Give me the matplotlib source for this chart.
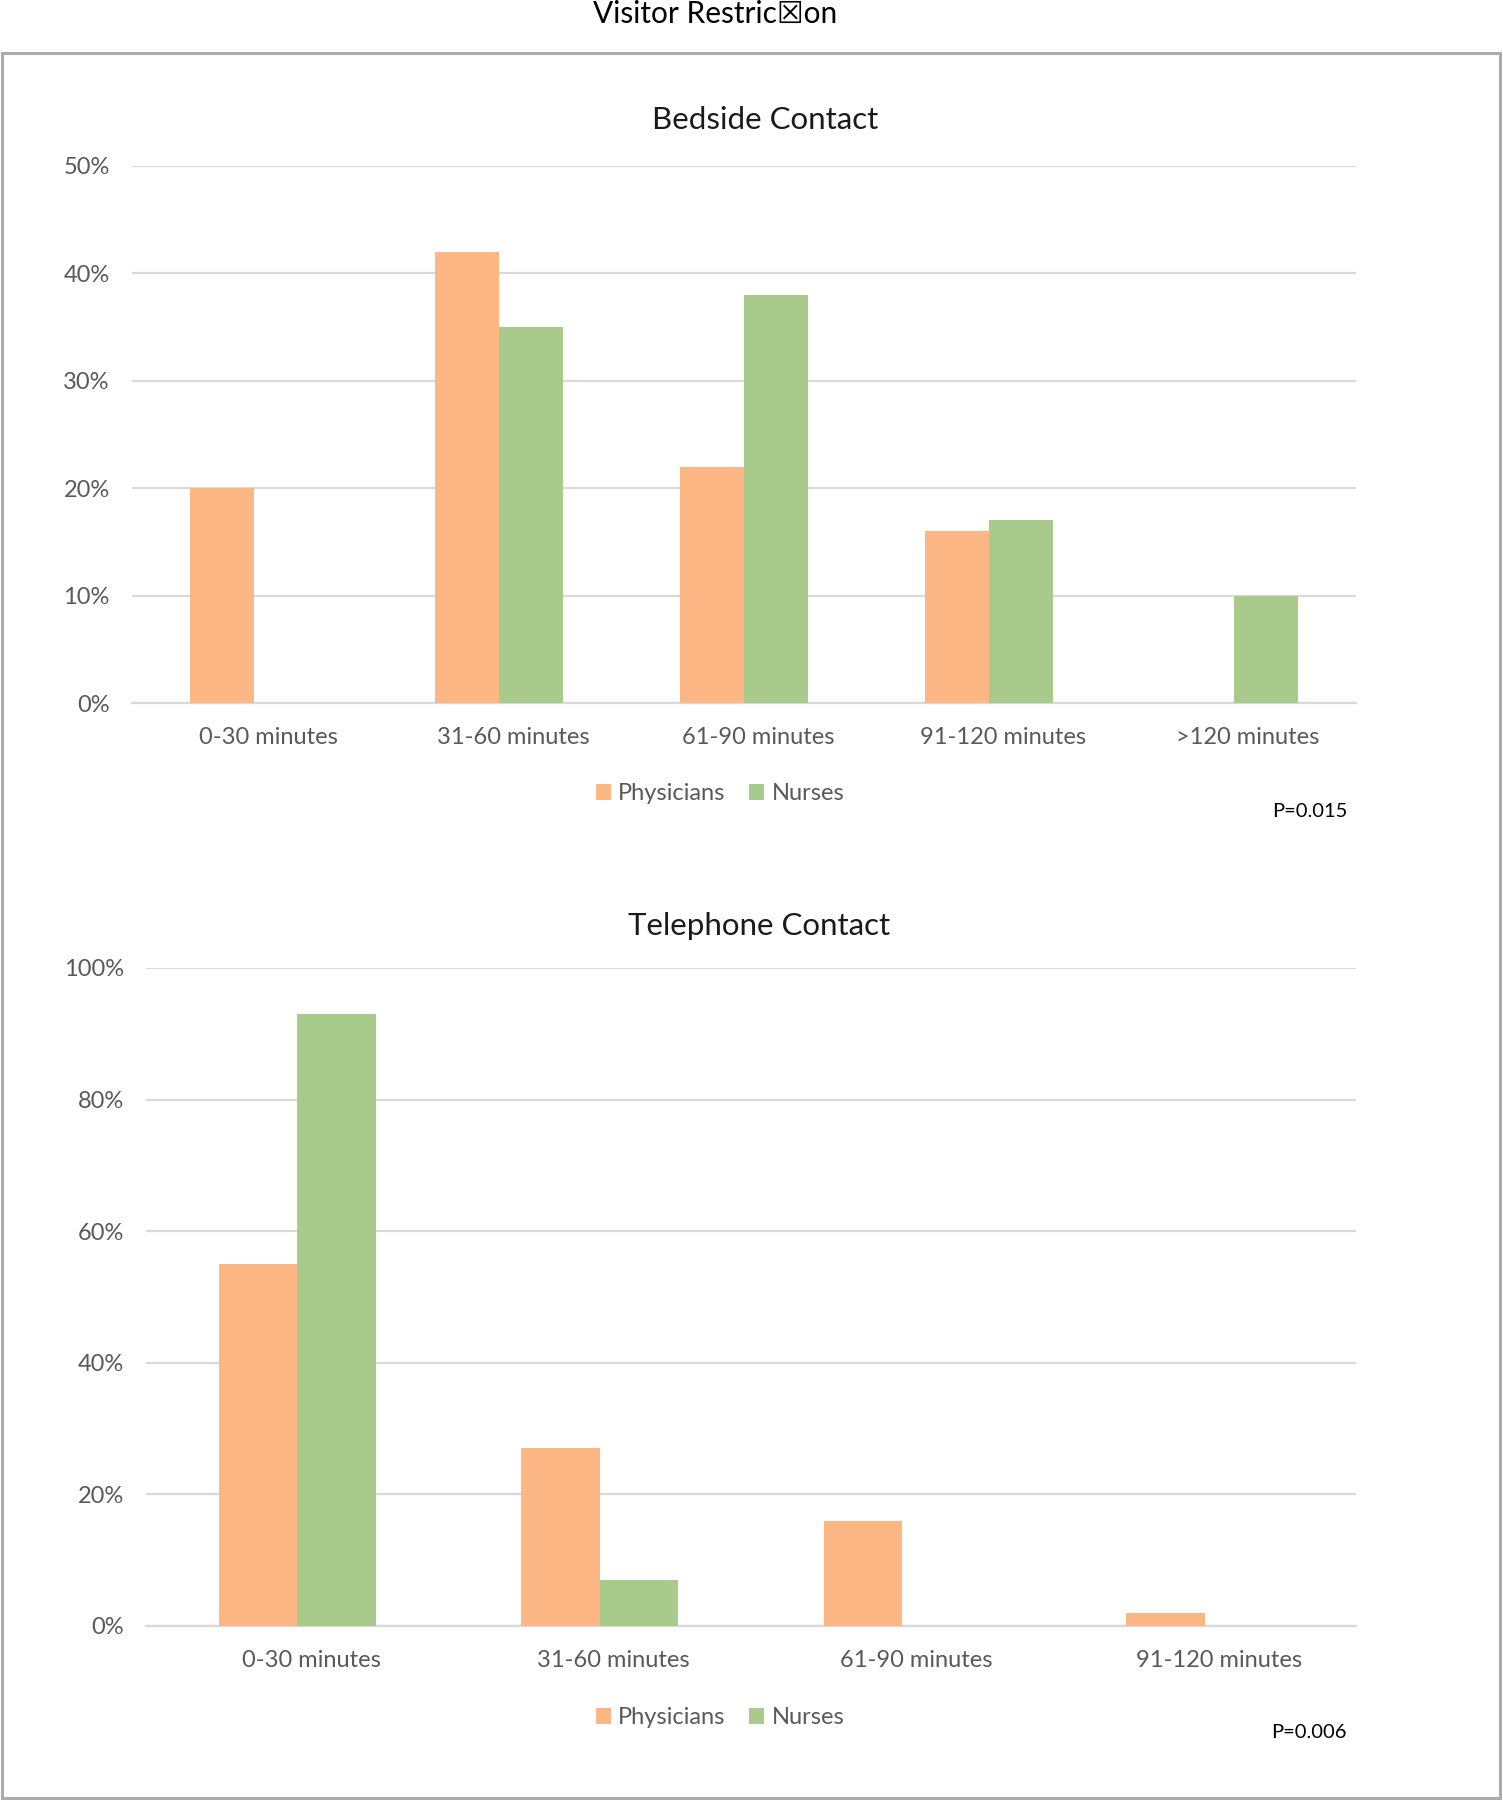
import matplotlib.pyplot as plt
import numpy as np
import matplotlib.transforms as mtransforms
from matplotlib.patches import Rectangle
from matplotlib.ticker import PercentFormatter

plt.rcParams['font.family'] = ['Lato', 'DejaVu Sans']

# data
bedside_cats = ['0-30 minutes', '31-60 minutes', '61-90 minutes', '91-120 minutes', '>120 minutes']
bedside_phys = [20, 42, 22, 16, 0]
bedside_nurse = [0, 35, 38, 17, 10]

phone_cats = ['0-30 minutes', '31-60 minutes', '61-90 minutes', '91-120 minutes']
phone_phys = [55, 27, 16, 2]
phone_nurse = [93, 7, 0, 0]

ORANGE = '#FCB784'
GREEN = '#A8CA8A'
GRID = '#D9D9D9'
TXT = '#595959'

fig = plt.figure(figsize=(15.03, 18), dpi=100)

# outer frame
fig.patches.append(Rectangle((0.001, 0.001), 0.997, 0.9695, transform=fig.transFigure,
                             fill=False, edgecolor='#ABABAB', linewidth=2.2))

fig.text(715 / 1503, 1 - 14 / 1800, 'Visitor Restric\u2612on', ha='center', va='center',
         fontsize=21.5, color='black')


def draw(ax, cats, phys, nurse, ymax, step, width, ypad):
    x = np.arange(len(cats))
    ax.bar(x - width / 2, phys, width, color=ORANGE, label='Physicians', zorder=3)
    ax.bar(x + width / 2, nurse, width, color=GREEN, label='Nurses', zorder=3)
    ax.set_xlim(-0.5, len(cats) - 0.5)
    ax.set_ylim(0, ymax)
    ax.set_yticks(np.arange(0, ymax + 1, step))
    ax.yaxis.set_major_formatter(PercentFormatter(decimals=0))
    ax.set_xticks(x)
    ax.set_xticklabels(cats)
    ax.grid(axis='y', color=GRID, linewidth=1.6, zorder=0)
    ax.set_axisbelow(True)
    for s in ['top', 'right', 'left']:
        ax.spines[s].set_visible(False)
    ax.spines['bottom'].set_color(GRID)
    ax.spines['bottom'].set_linewidth(1.6)
    ax.tick_params(axis='both', length=0, labelsize=17, labelcolor=TXT)
    ax.tick_params(axis='y', pad=ypad)
    ax.tick_params(axis='x', pad=17)
    # Excel puts the category labels a little right of the bar group centre
    shift = mtransforms.ScaledTranslation(14 / 100, 0, fig.dpi_scale_trans)
    for lab in ax.get_xticklabels():
        lab.set_transform(lab.get_transform() + shift)


def add_legend(ax, ypix):
    h, l = ax.get_legend_handles_labels()
    fig.legend(h, l, loc='center', bbox_to_anchor=(720 / 1503, 1 - ypix / 1800), ncol=2,
               frameon=False, fontsize=17, labelcolor=TXT, handlelength=0.65,
               handleheight=0.65, handletextpad=0.3, columnspacing=1.0)


ax1 = fig.add_axes([132 / 1503, 1 - 703 / 1800, (1356 - 132) / 1503, (703 - 166) / 1800])
draw(ax1, bedside_cats, bedside_phys, bedside_nurse, 50, 10, 0.2625, 16)
fig.text(765 / 1503, 1 - 120 / 1800, 'Bedside Contact', ha='center', va='center',
         fontsize=22.5, color='#1A1A1A')
add_legend(ax1, 794)
fig.text(1347 / 1503, 1 - 811 / 1800, 'P=0.015', ha='right', va='center', fontsize=14.5, color='black')

ax2 = fig.add_axes([146 / 1503, 1 - 1626 / 1800, (1356 - 146) / 1503, (1626 - 968) / 1800])
draw(ax2, phone_cats, phone_phys, phone_nurse, 100, 20, 0.26, 16)
fig.text(759 / 1503, 1 - 926 / 1800, 'Telephone Contact', ha='center', va='center',
         fontsize=22.5, color='#1A1A1A')
add_legend(ax2, 1718)
fig.text(1347 / 1503, 1 - 1733 / 1800, 'P=0.006', ha='right', va='center', fontsize=14.5, color='black')

fig.savefig('out.png', dpi=100, facecolor='white')
